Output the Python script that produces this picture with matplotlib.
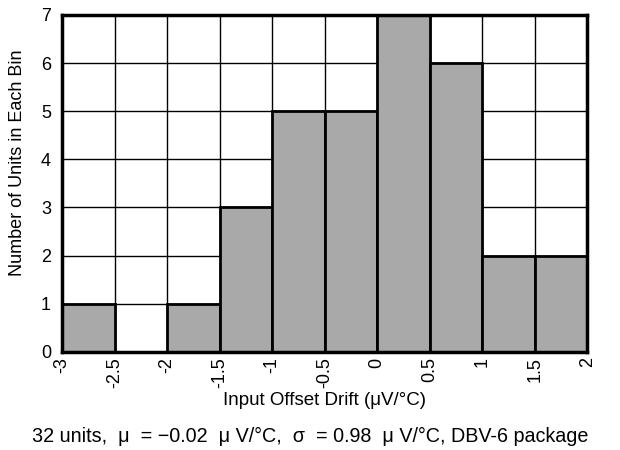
import numpy as np
import matplotlib.pyplot as plt

plt.rcParams['font.family'] = ['Liberation Sans', 'DejaVu Sans']

# Histogram data
bin_edges = [-3, -2.5, -2, -1.5, -1, -0.5, 0, 0.5, 1, 1.5, 2]
counts = [1, 0, 1, 3, 5, 5, 7, 6, 2, 2]
x_labels = ['-3', '-2.5', '-2', '-1.5', '-1', '-0.5', '0', '0.5', '1', '1.5', '2']
y_ticks = [0, 1, 2, 3, 4, 5, 6, 7]

fig = plt.figure(figsize=(6.2, 4.5), dpi=100)
ax = fig.add_axes([0.1, 0.218, 0.847, 0.749])

lefts = np.array(bin_edges[:-1])
widths = np.diff(bin_edges)
ax.bar(lefts, counts, width=widths, align='edge', color='#a9a9a9',
       edgecolor='black', linewidth=2, zorder=3)

ax.set_xlim(bin_edges[0], bin_edges[-1])
ax.set_ylim(0, 7)
ax.set_xticks(bin_edges)
ax.set_xticklabels(x_labels, rotation=90, fontsize=13)
ax.set_yticks(y_ticks)
ax.tick_params(axis='y', labelsize=13, pad=8)
ax.tick_params(axis='x', pad=4)
ax.tick_params(length=0)
ax.grid(True, color='black', linewidth=1, zorder=0)
ax.set_axisbelow(True)
for s in ax.spines.values():
    s.set_linewidth(2.5)
    s.set_zorder(4)

ax.set_xlabel('Input Offset Drift (\u03bcV/\u00b0C)', fontsize=13.5)
ax.xaxis.set_label_coords(0.5, -0.145)
ax.set_ylabel('Number of Units in Each Bin', fontsize=13)
ax.yaxis.set_label_coords(-0.084, 0.56)
ax.xaxis.label.set_va('center')
ax.yaxis.label.set_va('center')

fig.text(0.5, 0.03, '32 units,  \u03bc  = \u22120.02  \u03bc V/\u00b0C,  \u03c3  = 0.98  \u03bc V/\u00b0C, DBV-6 package',
         ha='center', va='center', fontsize=14.2)

fig.savefig('out.png', dpi=100)
